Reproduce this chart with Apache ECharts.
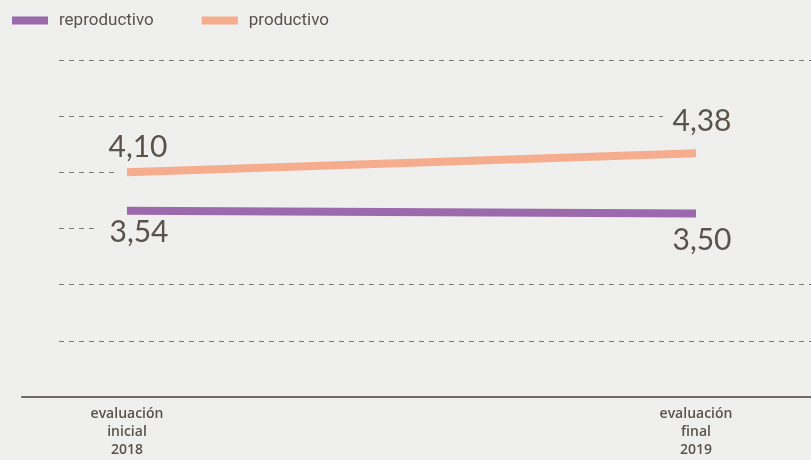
<!DOCTYPE html>
<html>
<head>
<meta charset="utf-8">
<script src="https://cdn.jsdelivr.net/npm/echarts@6/dist/echarts.min.js"></script>
<style>
html,body{margin:0;padding:0;background:#efefed;}
#chart{width:811px;height:460px;}
</style>
</head>
<body>
<div id="chart"></div>
<script>
// ---- data ----
const categories = ['evaluación\ninicial\n2018', 'evaluación\nfinal\n2019'];
const seriesNames = ['reproductivo', 'productivo'];
const reproductivo = [3.54, 3.50];
const productivo = [4.10, 4.38];

// ---- styling ----
const TEXT = '#5b524c';
const GRID_C = '#7d7773';
const PURPLE = '#9b6aad';
const ORANGE = '#f5ad8e';
const Y_MIN = 0.82, Y_INT = 0.82, Y_MAX = 0.82 * 7;
const TOP = 60, BOTTOM = 63;
const fmt = v => v.toFixed(2).replace('.', ',');

function mkY(gridIndex, colors, showSplit) {
  return {
    type: 'value', gridIndex, min: Y_MIN, max: Y_MAX, interval: Y_INT,
    axisLine: {show: false}, axisTick: {show: false}, axisLabel: {show: false},
    splitLine: {show: showSplit, lineStyle: {color: colors, type: [5, 5], width: 1}}
  };
}
function mkHiddenX(gridIndex) {
  return {type: 'value', gridIndex, min: 0, max: 1, show: false, splitLine: {show: false}};
}
const T = 'rgba(0,0,0,0)';

const chart = echarts.init(document.getElementById('chart'));
chart.setOption({
  backgroundColor: '#efefed',
  animation: false,
  legend: {
    left: 12, top: 12, padding: 0,
    itemWidth: 36, itemHeight: 8, itemGap: 48,
    icon: 'rect',
    textStyle: {color: TEXT, fontSize: 17, fontFamily: 'Roboto, sans-serif', padding: [0, 0, 0, 6]},
    data: seriesNames
  },
  grid: [
    {left: 127, right: 115, top: TOP, bottom: BOTTOM},   // 0 main series
    {left: 22, right: 0, top: TOP, bottom: BOTTOM},      // 1 axis line
    {left: 59, right: 0, top: TOP, bottom: BOTTOM},      // 2 full gridlines
    {left: 59, right: 148, top: TOP, bottom: BOTTOM},    // 3 line under 4,38
    {left: 59, right: 696, top: TOP, bottom: BOTTOM},    // 4 short line at 4,10
    {left: 59, right: 714, top: TOP, bottom: BOTTOM}     // 5 short line at 3,54
  ],
  xAxis: [
    {
      type: 'category', gridIndex: 0, data: categories, boundaryGap: false,
      axisLine: {show: false}, axisTick: {show: false}, splitLine: {show: false},
      axisLabel: {color: TEXT, fontSize: 14, fontWeight: 600, fontFamily: 'Open Sans, sans-serif',
        lineHeight: 18, margin: 8, interval: 0}
    },
    {
      type: 'value', gridIndex: 1, min: 0, max: 1,
      axisLine: {show: true, lineStyle: {color: '#6f6965', width: 2}},
      axisTick: {show: false}, axisLabel: {show: false}, splitLine: {show: false}
    },
    mkHiddenX(2), mkHiddenX(3), mkHiddenX(4), mkHiddenX(5)
  ],
  yAxis: [
    mkY(0, [T], false),
    mkY(1, [T], false),
    mkY(2, [T, GRID_C, GRID_C, T, T, T, GRID_C], true),
    mkY(3, [T, T, T, T, T, GRID_C, T], true),
    mkY(4, [T, T, T, T, GRID_C, T, T], true),
    mkY(5, [T, T, T, GRID_C, T, T, T], true)
  ],
  series: [
    {
      name: seriesNames[0], type: 'line', xAxisIndex: 0, yAxisIndex: 0,
      showSymbol: true, symbol: 'circle', symbolSize: 0, color: PURPLE,
      lineStyle: {width: 8, color: PURPLE, cap: 'butt'},
      label: {show: true, position: 'bottom', color: TEXT, fontSize: 30, fontFamily: 'Lato, sans-serif', fontWeight: 400,
        formatter: p => fmt(p.value)},
      data: [
        {value: reproductivo[0], label: {distance: 7, offset: [12, 0]}},
        {value: reproductivo[1], label: {distance: 12, offset: [6, 0]}}
      ]
    },
    {
      name: seriesNames[1], type: 'line', xAxisIndex: 0, yAxisIndex: 0,
      showSymbol: true, symbol: 'circle', symbolSize: 0, color: ORANGE,
      lineStyle: {width: 8, color: ORANGE, cap: 'butt'},
      label: {show: true, position: 'top', color: TEXT, fontSize: 30, fontFamily: 'Lato, sans-serif', fontWeight: 400,
        formatter: p => fmt(p.value)},
      data: [
        {value: productivo[0], label: {distance: 10, offset: [11, 0]}},
        {value: productivo[1], label: {distance: 17, offset: [6, 0]}}
      ]
    }
  ]
});
</script>
</body>
</html>
